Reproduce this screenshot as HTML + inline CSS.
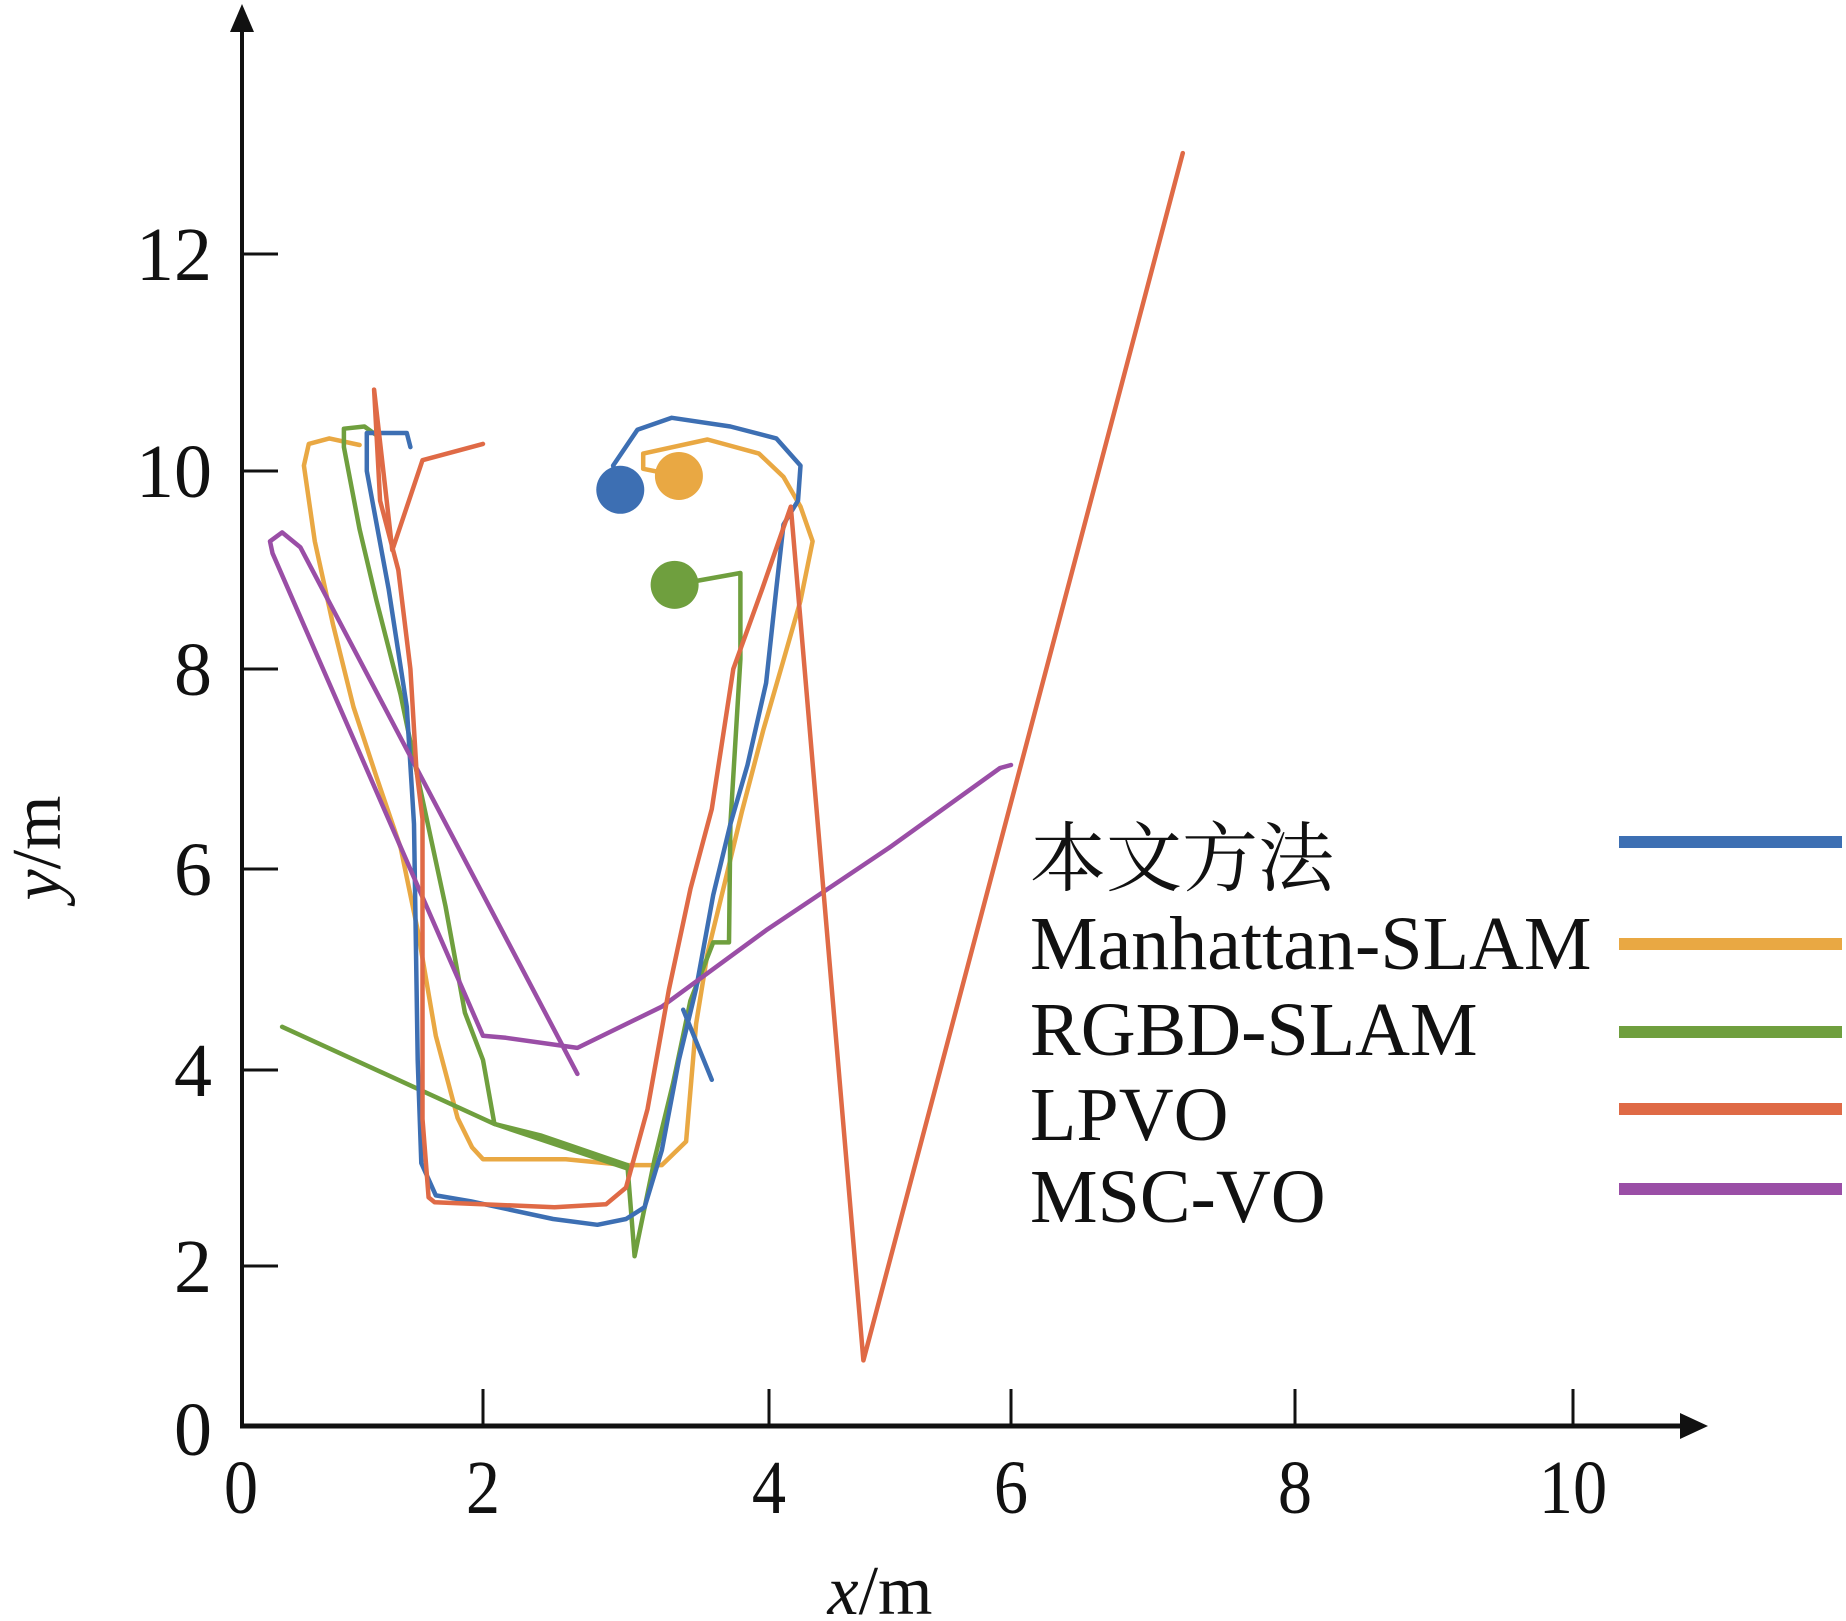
<!DOCTYPE html>
<html><head><meta charset="utf-8"><style>
html,body{margin:0;padding:0;background:#fff;}
svg{display:block;}
text{font-family:"Liberation Serif","Noto Serif CJK SC",serif;fill:#111;}
</style></head><body>
<svg id="chart" width="1846" height="1621" viewBox="0 0 1846 1621" xmlns="http://www.w3.org/2000/svg">
<g id="axes"></g>
<g id="series"></g>
<g id="legend"></g>
</svg>
<script>
const xTicks = [0,2,4,6,8,10];
const yTicks = [0,2,4,6,8,10,12];
const xTickLabels = ["0","2","4","6","8","10"];
const yTickLabels = ["0","2","4","6","8","10","12"];
const seriesNames = ["本文方法","Manhattan-SLAM","RGBD-SLAM","LPVO","MSC-VO"];
const oursPath = [[2.96,9.81],[2.91,10.05],[3.08,10.38],[3.32,10.49],[3.73,10.41],[4.06,10.30],[4.26,10.05],[4.24,9.70],[4.12,9.46],[4.06,8.81],[3.98,7.86],[3.85,7.04],[3.73,6.45],[3.61,5.74],[3.49,4.81],[3.37,4.10],[3.25,3.18],[3.13,2.60],[3.00,2.48],[2.80,2.42],[2.49,2.48],[1.90,2.66],[1.61,2.72],[1.49,3.05],[1.46,4.10],[1.43,6.45],[1.37,7.62],[1.22,8.81],[1.04,10.0],[1.04,10.35],[1.37,10.35],[1.40,10.22]];
const oursTail = [[3.40,4.6],[3.6,3.9]];
const manhattanPath = [[3.37,9.95],[3.12,10.02],[3.12,10.16],[3.57,10.29],[3.93,10.16],[4.12,9.94],[4.26,9.64],[4.36,9.29],[4.26,8.69],[4.12,8.09],[3.96,7.39],[3.81,6.57],[3.69,5.86],[3.57,5.16],[3.49,4.46],[3.42,3.27],[3.25,3.03],[3.0,3.03],[2.58,3.09],[2.0,3.09],[1.91,3.21],[1.79,3.51],[1.61,4.34],[1.46,5.39],[1.32,6.21],[1.12,6.92],[0.93,7.62],[0.76,8.45],[0.61,9.29],[0.52,10.05],[0.56,10.25],[0.73,10.30],[0.98,10.24]];
const rgbdPath = [[3.34,8.85],[3.80,8.97],[3.80,8.10],[3.73,6.45],[3.72,5.27],[3.61,5.27],[3.45,4.69],[3.33,3.87],[3.20,3.09],[3.06,2.1],[3.01,3.03],[2.41,3.33],[2.08,3.45],[2.0,4.1],[1.85,4.57],[1.69,5.63],[1.46,6.92],[1.32,7.74],[1.12,8.69],[0.98,9.41],[0.85,10.22],[0.85,10.39],[1.02,10.41],[1.12,10.33]];
const rgbdLine = [[0.34,4.43],[2.08,3.45],[3.0,3.0]];
const lpvoPath = [[2.0,10.25],[1.5,10.1],[1.25,9.2],[1.1,10.75],[1.15,9.7],[1.3,9.0],[1.4,8.0],[1.45,7.0],[1.5,6.5],[1.5,5.0],[1.5,3.5],[1.55,2.7],[1.6,2.65],[2.5,2.6],[2.86,2.63],[3.0,2.8],[3.15,3.6],[3.3,4.8],[3.45,5.8],[3.6,6.6],[3.75,8.0],[3.95,8.8],[4.18,9.64],[4.78,0.82],[7.21,12.93]];
const mscPath = [[2.66,3.96],[0.49,9.23],[0.34,9.38],[0.24,9.29],[0.26,9.17],[2.0,4.34],[2.16,4.32],[2.66,4.22],[3.25,4.63],[3.98,5.39],[4.99,6.21],[5.91,7.01],[6.0,7.04]];
const startPoints = [[2.96,9.81],[3.37,9.95],[3.34,8.85]];

const xPix = [241,483,769,1011,1295,1573];
const yPix = [1426,1266,1070,869,669,471,254];
function interp(v, ticks, pix){
  let i = 0;
  while(i < ticks.length-2 && v > ticks[i+1]) i++;
  const t = (v - ticks[i])/(ticks[i+1]-ticks[i]);
  return pix[i] + t*(pix[i+1]-pix[i]);
}
const sx = v => interp(v, xTicks, xPix);
const sy = v => interp(v, yTicks, yPix);
const NS = "http://www.w3.org/2000/svg";
function mk(tag, attrs, parent){
  const e = document.createElementNS(NS, tag);
  for(const k in attrs) e.setAttribute(k, attrs[k]);
  parent.appendChild(e); return e;
}
const axes = document.getElementById('axes');
const series = document.getElementById('series');
const legend = document.getElementById('legend');

let a = mk('line',{x1:242,y1:1426,x2:242,y2:25,stroke:'#111','stroke-width':4},axes);


a = mk('polygon',{points:'242,4 230,32 254,32',fill:'#111'},axes);


a = mk('line',{x1:240,y1:1426,x2:1685,y2:1426,stroke:'#111','stroke-width':5},axes);


a = mk('polygon',{points:'1708,1426 1680,1413 1680,1439',fill:'#111'},axes);



xTicks.forEach((v,i)=>{
  if(i>0){
    const t = mk('line',{x1:sx(v),y1:1389,x2:sx(v),y2:1426,stroke:'#111','stroke-width':3},axes);
    
    
  }
  const l = mk('text',{x:sx(v),y:1513,'font-size':76,'text-anchor':'middle',transform:'scale(0.9,1)','transform-origin':sx(v)+' 1513'},axes);
  l.textContent = xTickLabels[i];
  
  
});
yTicks.forEach((v,i)=>{
  if(i>0){
    const t = mk('line',{x1:242,y1:sy(v),x2:278,y2:sy(v),stroke:'#111','stroke-width':3},axes);
    
    
  }
  const l = mk('text',{x:212,y:sy(v)+26 - (i===0?-3:0),'font-size':76,'text-anchor':'end'},axes);
  l.textContent = yTickLabels[i];
  
  
});
let tt = mk('text',{x:880,y:1614,'font-size':70,'text-anchor':'middle'},axes);
tt.innerHTML = '<tspan font-style="italic">x</tspan>/m';


tt = mk('text',{x:0,y:0,'font-size':70,'text-anchor':'middle',transform:'translate(60,848) rotate(-90)'},axes);
tt.innerHTML = '<tspan font-style="italic">y</tspan>/m';



const colors = ["#3d6fb3","#e9a843","#6f9f3e","#df6a46","#9a4ea6"];
function drawPath(pts, color, name){
  const d = pts.map((p,i)=>(i?'L':'M')+sx(p[0]).toFixed(1)+','+sy(p[1]).toFixed(1)).join(' ');
  const p = mk('path',{d:d,fill:'none',stroke:color,'stroke-width':4.5,'stroke-linejoin':'round','stroke-linecap':'round'},series);
  
  
}
drawPath(manhattanPath, colors[1], 'manhattan-slam-line');
drawPath(rgbdPath, colors[2], 'rgbd-slam-line');
drawPath(rgbdLine, colors[2], 'rgbd-slam-drift-line');
drawPath(oursPath, colors[0], 'ours-line');
drawPath(oursTail, colors[0], 'ours-tail-line');
drawPath(mscPath, colors[4], 'msc-vo-line');
drawPath(lpvoPath, colors[3], 'lpvo-line');
const dotColors = [colors[0],colors[1],colors[2]];
startPoints.forEach((p,i)=>{
  const c = mk('circle',{cx:sx(p[0]),cy:sy(p[1]),r:24,fill:dotColors[i]},series);
  
  
});

const legY = [885,969,1055,1140,1222];
const legLineY = [842,944,1032,1109,1189];
seriesNames.forEach((n,i)=>{
  const t = mk('text',{x:1030,y:legY[i],'font-size':76},legend);
  t.textContent = n;
  
  
  const l = mk('line',{x1:1619,y1:legLineY[i],x2:1842,y2:legLineY[i],stroke:colors[i],'stroke-width':12},legend);
  
  
});
</script>
</body></html>
